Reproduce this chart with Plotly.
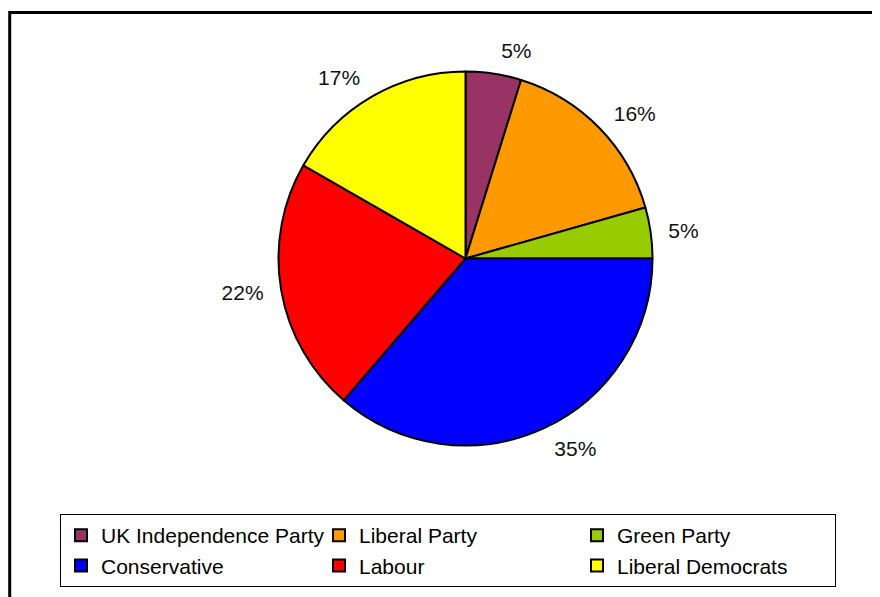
import plotly.graph_objects as go

parties = ["UK Independence Party", "Liberal Party", "Green Party",
           "Conservative", "Labour", "Liberal Democrats"]
shares = [4.8, 15.8, 4.4, 36.3, 22.0, 16.7]
pct_labels = ["5%", "16%", "5%", "35%", "22%", "17%"]
colors = ["#993366", "#FF9900", "#99CC00", "#0000FF", "#FF0000", "#FFFF00"]

W, H = 880, 597
OFF = 8  # page body margin shift
cx, cy, r = 465.5 - OFF, 258.5 - OFF, 187
r_lab = 199
FONT = "Liberation Sans, Arial, sans-serif"


def dom(rad):
    return dict(x=[(cx - rad) / W, (cx + rad) / W],
                y=[(H - cy - rad) / H, (H - cy + rad) / H])


# label carrier (invisible, slightly larger so labels sit further out)
fig = go.Figure()
fig.add_trace(go.Pie(
    labels=parties, values=shares, text=pct_labels,
    textinfo="text", textposition="outside",
    sort=False, direction="clockwise", rotation=0,
    marker=dict(colors=["rgba(0,0,0,0)"] * 6, line=dict(width=0)),
    outsidetextfont=dict(size=21, color="#111111", family=FONT),
    hoverinfo="skip", showlegend=False,
    domain=dom(r_lab),
))
fig.add_trace(go.Pie(
    labels=parties, values=shares,
    textinfo="none",
    sort=False, direction="clockwise", rotation=0,
    marker=dict(colors=colors, line=dict(color="black", width=2)),
    hoverinfo="label+percent",
    domain=dom(r),
))

fig.update_layout(
    width=W, height=H,
    margin=dict(l=0, r=0, t=0, b=0),
    paper_bgcolor="white",
    plot_bgcolor="white",
    font=dict(family=FONT, size=21, color="black"),
    showlegend=True,
    legend=dict(
        orientation="h",
        x=(60 - OFF) / W, xanchor="left",
        y=(H - (514 - OFF)) / H, yanchor="top",
        bordercolor="black", borderwidth=1,
        bgcolor="white",
        entrywidth=213,
        entrywidthmode="pixels",
        itemwidth=30,
        font=dict(size=21, color="black", family=FONT),
        traceorder="normal",
    ),
    shapes=[dict(type="rect", xref="paper", yref="paper",
                 x0=(9.7 - OFF) / W, x1=1.05, y0=-0.05, y1=(H - (12.5 - OFF)) / H,
                 line=dict(color="black", width=3), fillcolor="rgba(0,0,0,0)")],
)

fig.write_html("out.html")
